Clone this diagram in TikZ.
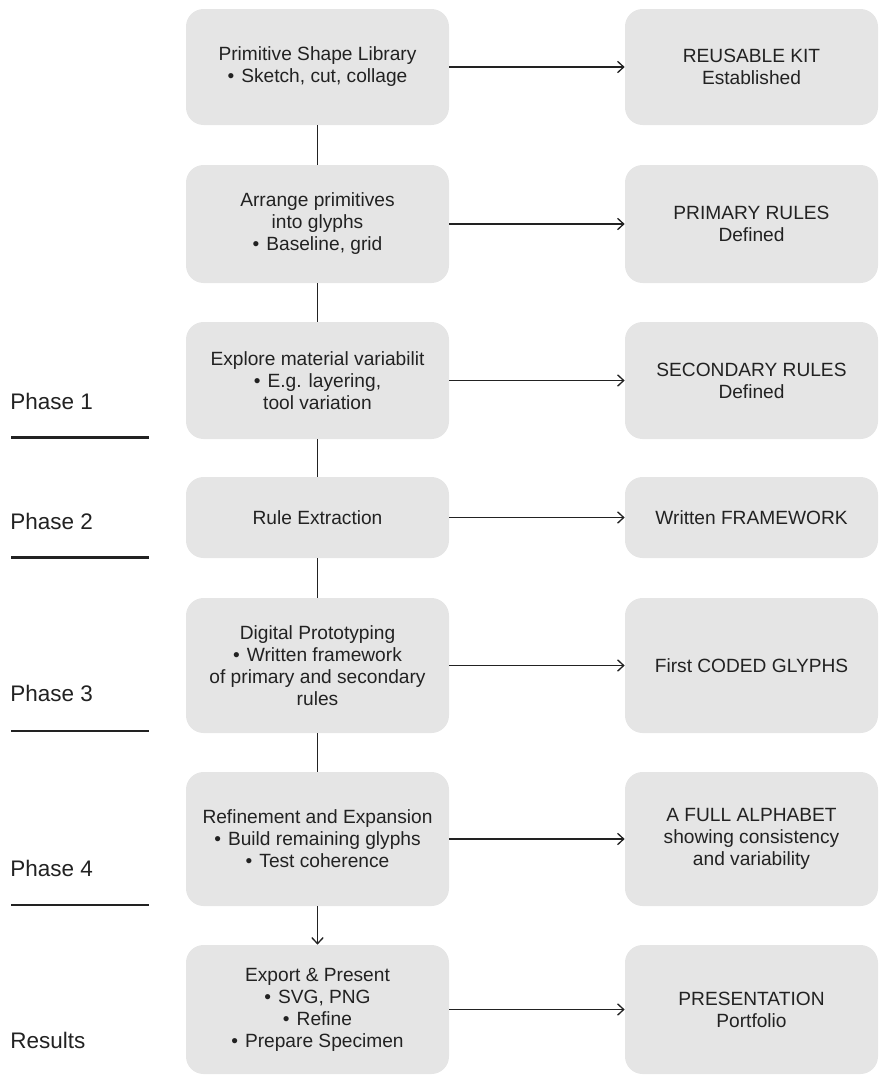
\documentclass[tikz,border=0pt]{standalone}
\usepackage{fontspec}
\setmainfont{Liberation Sans}
\definecolor{boxgray}{RGB}{229,229,229}
\definecolor{inkgray}{RGB}{34,34,34}
\usetikzlibrary{arrows.meta,positioning}
\newcommand{\bul}{\textbullet\hspace{4pt}}
\tikzset{
  stepbox/.style={fill=boxgray, rounded corners=10pt, minimum width=263*0.02cm, align=center, text=inkgray, font=\fontsize{10.9}{12.5}\selectfont},
  outbox/.style={fill=boxgray, rounded corners=10pt, minimum width=253*0.02cm, align=center, text=inkgray, font=\fontsize{10.9}{12.5}\selectfont},
  phaselabel/.style={anchor=west, inner sep=0pt, text=inkgray, font=\fontsize{12.8}{15}\selectfont},
  link/.style={line width=0.75pt, inkgray},
  flow/.style={-{Straight Barb[length=3.5pt,width=6.5pt]}, line width=0.75pt, inkgray}
}
\begin{document}
\begin{tikzpicture}[x=0.02cm, y=-0.02cm]
  \useasboundingbox (0,0) rectangle (880,1076);

  % Process steps (left column)
  \node[stepbox, minimum height=116*0.02cm] (shapes) at (317.5,67) {Primitive Shape Library\\ \bul Sketch, cut, collage};
  \node[stepbox, minimum height=118*0.02cm] (arrange) at (317.5,224) {Arrange primitives\\into glyphs\\ \bul Baseline, grid};
  \node[stepbox, minimum height=117*0.02cm] (explore) at (317.5,380.5) {Explore material variabilit\\ \bul E.g. layering,\\tool variation};
  \node[stepbox, minimum height=81*0.02cm] (extract) at (317.5,517.5) {Rule Extraction};
  \node[stepbox, minimum height=135*0.02cm] (digital) at (317.5,665.5) {Digital Prototyping\\ \bul Written framework\\of primary and secondary\\rules};
  \node[stepbox, minimum height=134*0.02cm] (refine) at (317.5,839) {Refinement and Expansion\\ \bul Build remaining glyphs\\ \bul Test coherence};
  \node[stepbox, minimum height=129*0.02cm] (export) at (317.5,1009.5) {Export \& Present\\ \bul SVG, PNG\\ \bul Refine\\ \bul Prepare Specimen};

  % Outcomes (right column)
  \node[outbox, minimum height=116*0.02cm] (kit) at (751.5,67) {REUSABLE KIT\\Established};
  \node[outbox, minimum height=118*0.02cm] (primary) at (751.5,224) {PRIMARY RULES\\Defined};
  \node[outbox, minimum height=117*0.02cm] (secondary) at (751.5,380.5) {SECONDARY RULES\\Defined};
  \node[outbox, minimum height=81*0.02cm] (framework) at (751.5,517.5) {Written FRAMEWORK};
  \node[outbox, minimum height=135*0.02cm] (coded) at (751.5,665.5) {First CODED GLYPHS};
  \node[outbox, minimum height=134*0.02cm] (alphabet) at (751.5,839) {A FULL ALPHABET\\showing consistency\\and variability};
  \node[outbox, minimum height=129*0.02cm] (portfolio) at (751.5,1009.5) {PRESENTATION\\Portfolio};

  % Vertical links
  \draw[link] (shapes.south) -- (arrange.north);
  \draw[link] (arrange.south) -- (explore.north);
  \draw[link] (explore.south) -- (extract.north);
  \draw[link] (extract.south) -- (digital.north);
  \draw[link] (digital.south) -- (refine.north);
  \draw[flow] (refine.south) -- (export.north);

  % Step -> outcome arrows
  \draw[flow] (shapes.east) -- (kit.west);
  \draw[flow] (arrange.east) -- (primary.west);
  \draw[flow] (explore.east) -- (secondary.west);
  \draw[flow] (extract.east) -- (framework.west);
  \draw[flow] (digital.east) -- (coded.west);
  \draw[flow] (refine.east) -- (alphabet.west);
  \draw[flow] (export.east) -- (portfolio.west);

  % Phase labels
  \node[phaselabel] (p1) at (10,401) {Phase 1};
  \node[phaselabel] (p2) at (10,521) {Phase 2};
  \node[phaselabel] (p3) at (10,693) {Phase 3};
  \node[phaselabel] (p4) at (10,868) {Phase 4};
  \node[phaselabel] (res) at (10,1040) {Results};
  \coordinate (l1a) at (11,437.5); \coordinate (l1b) at (149,437.5);
  \coordinate (l2a) at (11,557.5); \coordinate (l2b) at (149,557.5);
  \coordinate (l3a) at (11,731); \coordinate (l3b) at (149,731);
  \coordinate (l4a) at (11,905); \coordinate (l4b) at (149,905);
  \draw[line width=1.2pt, inkgray] (l1a) -- (l1b);
  \draw[line width=1.2pt, inkgray] (l2a) -- (l2b);
  \draw[line width=1.2pt, inkgray] (l3a) -- (l3b);
  \draw[line width=1.2pt, inkgray] (l4a) -- (l4b);
\end{tikzpicture}
\end{document}
